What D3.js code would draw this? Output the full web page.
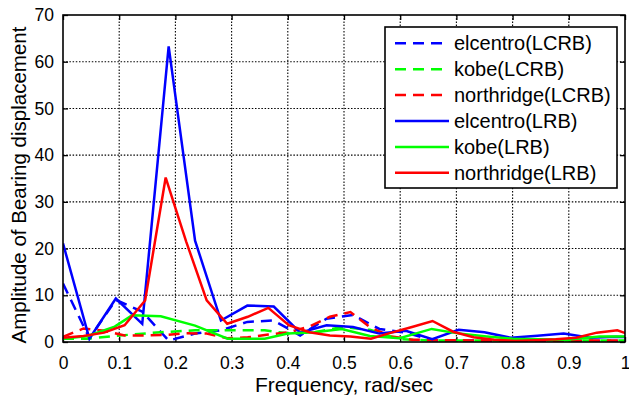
<!DOCTYPE html>
<meta charset="utf-8">
<script src="https://d3js.org/d3.v7.min.js"></script>
<style>
body { margin: 0; background: #fff; }
text { font-family: "Liberation Sans", Arial, sans-serif; fill: #000; }
</style>
<body>
<script>
// frequency grids (rad/sec), one per record
var elcentroFreq = [0, 0.047, 0.094, 0.141, 0.188, 0.235, 0.281, 0.328, 0.375, 0.422, 0.469, 0.516,
	0.563, 0.610, 0.657, 0.704, 0.750, 0.797, 0.844, 0.891, 0.938, 0.985, 1.032];
var kobeFreq = [0, 0.044, 0.092, 0.123, 0.174, 0.235, 0.293, 0.359, 0.400, 0.448, 0.496, 0.546,
	0.599, 0.656, 0.700, 0.754, 0.800, 0.896, 0.955, 1.0];
var northridgeFreq = [0, 0.0365, 0.0731, 0.1096, 0.1461, 0.1827, 0.2192, 0.2557, 0.2922, 0.3288,
	0.3653, 0.4018, 0.4384, 0.4749, 0.5114, 0.5480, 0.5845, 0.6210, 0.6575, 0.6941, 0.7306, 0.7671,
	0.8037, 0.8402, 0.8767, 0.9133, 0.9498, 0.9863, 1.0228];

// amplitudes
var elcentroLCRB = [12.5, 0.8, 9.0, 6.5, 0.3, 1.8, 2.5, 4.3, 4.6, 1.4, 5.0, 5.8, 2.8, 2.0, 0.4, 0.3,
	0.3, 0.2, 0.2, 0.2, 0.2, 0.2, 0.2];
var kobeLCRB = [0.7, 0.7, 1.3, 1.6, 2.1, 2.5, 2.5, 2.5, 1.8, 2.1, 3.2, 2.6, 0.6, 0.3, 0.3, 0.3, 0.3,
	0.3, 0.3, 0.3];
var northridgeLCRB = [1.1, 2.9, 2.4, 1.4, 1.4, 1.5, 1.9, 1.8, 0.8, 1.0, 1.6, 2.1, 3.3, 5.4, 6.4, 3.0,
	1.2, 0.5, 0.4, 0.4, 0.3, 0.3, 0.3, 0.3, 0.3, 0.3, 0.3, 0.3, 0.3];
var elcentroLRB = [21.1, 0.7, 9.3, 3.9, 63.3, 21.7, 4.6, 7.8, 7.6, 2.0, 3.6, 3.2, 1.8, 2.4, 0.6, 2.6,
	2.1, 0.9, 1.35, 1.8, 0.9, 1.1, 1.0];
var kobeLRB = [0.7, 1.3, 3.3, 5.7, 5.5, 3.5, 0.7, 0.7, 1.8, 2.1, 2.8, 1.3, 0.8, 2.8, 1.9, 1.2, 0.7,
	0.5, 1.2, 1.2];
var northridgeLRB = [0.9, 1.3, 2.0, 3.6, 8.9, 35.2, 21.5, 8.9, 3.9, 5.4, 7.3, 3.6, 2.1, 1.4, 1.2, 0.7,
	2.0, 3.2, 4.5, 2.2, 1.0, 0.5, 0.2, 0.4, 0.6, 0.9, 2.0, 2.5, 1.0];

var legendNames = ["elcentro(LCRB)", "kobe(LCRB)", "northridge(LCRB)",
	"elcentro(LRB)", "kobe(LRB)", "northridge(LRB)"];
var xTicks = [0, 0.1, 0.2, 0.3, 0.4, 0.5, 0.6, 0.7, 0.8, 0.9, 1];
var yTicks = [0, 10, 20, 30, 40, 50, 60, 70];

var dashed = "11,7";
var series = [
	{ name: legendNames[0], f: elcentroFreq, a: elcentroLCRB, color: "#0000ff", dash: dashed },
	{ name: legendNames[1], f: kobeFreq, a: kobeLCRB, color: "#00ff00", dash: dashed },
	{ name: legendNames[2], f: northridgeFreq, a: northridgeLCRB, color: "#ff0000", dash: dashed },
	{ name: legendNames[3], f: elcentroFreq, a: elcentroLRB, color: "#0000ff", dash: null },
	{ name: legendNames[4], f: kobeFreq, a: kobeLRB, color: "#00ff00", dash: null },
	{ name: legendNames[5], f: northridgeFreq, a: northridgeLRB, color: "#ff0000", dash: null }
];

var W = 629, H = 395,
	plotL = 63, plotR = 625, plotT = 15, plotB = 342;

var svg = d3.select("body").append("svg")
	.attr("width", W)
	.attr("height", H);

var x = d3.scaleLinear().domain([0, 1]).range([plotL, plotR]);
var y = d3.scaleLinear().domain([0, 70]).range([plotB, plotT]);

// dotted grid
svg.selectAll(".gx")
	.data(xTicks.slice(1, -1))
	.enter().append("line")
	.attr("x1", function(d) { return x(d); })
	.attr("x2", function(d) { return x(d); })
	.attr("y1", plotT).attr("y2", plotB)
	.style("stroke", "#000").style("stroke-width", 1.1)
	.style("stroke-dasharray", "1.5,1.7");

svg.selectAll(".gy")
	.data(yTicks.slice(1, -1))
	.enter().append("line")
	.attr("y1", function(d) { return y(d); })
	.attr("y2", function(d) { return y(d); })
	.attr("x1", plotL).attr("x2", plotR)
	.style("stroke", "#000").style("stroke-width", 1.1)
	.style("stroke-dasharray", "1.5,1.7");

// axes, ticks inward on all four sides
var tickLen = 5;
svg.append("g")
	.attr("transform", "translate(0," + plotB + ")")
	.call(d3.axisBottom(x).tickValues(xTicks).tickSizeInner(-tickLen).tickSizeOuter(0).tickPadding(10)
		.tickFormat(function(d) { return d3.format("~g")(d); }))
	.call(function(g) {
		g.select(".domain").remove();
		g.selectAll("text").attr("font-size", "17.5px").attr("dy", "0.95em");
	});
svg.append("g")
	.attr("transform", "translate(0," + plotT + ")")
	.call(d3.axisTop(x).tickValues(xTicks).tickSizeInner(-tickLen).tickSizeOuter(0).tickFormat(""))
	.call(function(g) { g.select(".domain").remove(); });
svg.append("g")
	.attr("transform", "translate(" + plotL + ",0)")
	.call(d3.axisLeft(y).tickValues(yTicks).tickSizeInner(-tickLen).tickSizeOuter(0).tickPadding(9))
	.call(function(g) {
		g.select(".domain").remove();
		g.selectAll("text").attr("font-size", "17.5px");
	});
svg.append("g")
	.attr("transform", "translate(" + plotR + ",0)")
	.call(d3.axisRight(y).tickValues(yTicks).tickSizeInner(-tickLen).tickSizeOuter(0).tickFormat(""))
	.call(function(g) { g.select(".domain").remove(); });
svg.selectAll(".tick line").style("stroke", "#000").style("stroke-width", 1.3);

// data lines
svg.append("clipPath").attr("id", "clip")
	.append("rect")
	.attr("x", plotL).attr("y", plotT)
	.attr("width", plotR - plotL).attr("height", plotB - plotT);

var line = d3.line()
	.x(function(d) { return x(d[0]); })
	.y(function(d) { return y(d[1]); });

svg.append("g").attr("clip-path", "url(#clip)")
	.selectAll("path")
	.data(series)
	.enter().append("path")
	.attr("d", function(s) { return line(d3.zip(s.f, s.a)); })
	.style("fill", "none")
	.style("stroke", function(s) { return s.color; })
	.style("stroke-width", 2.5)
	.style("stroke-dasharray", function(s) { return s.dash; });

// frame
svg.append("rect")
	.attr("x", plotL).attr("y", plotT)
	.attr("width", plotR - plotL).attr("height", plotB - plotT)
	.style("fill", "none").style("stroke", "#000").style("stroke-width", 1.6);

// labels
svg.append("text")
	.attr("x", (plotL + plotR) / 2).attr("y", 392)
	.style("text-anchor", "middle")
	.attr("font-size", "21px")
	.text("Frequency, rad/sec");

svg.append("text")
	.attr("transform", "translate(26,185) rotate(-90)")
	.style("text-anchor", "middle")
	.attr("font-size", "20.5px")
	.text("Amplitude of Bearing displacement");

// legend
var lg = svg.append("g");
lg.append("rect")
	.attr("x", 385).attr("y", 27)
	.attr("width", 232).attr("height", 161)
	.style("fill", "#fff").style("stroke", "#000").style("stroke-width", 1.6);

var rowH = 25.9;
var rows = lg.selectAll(".row")
	.data(series)
	.enter().append("g")
	.attr("transform", function(d, i) { return "translate(0," + (43.3 + i * rowH) + ")"; });
rows.append("line")
	.attr("x1", 395).attr("x2", 449)
	.style("stroke", function(s) { return s.color; })
	.style("stroke-width", 2.5)
	.style("stroke-dasharray", function(s) { return s.dash; });
rows.append("text")
	.attr("x", 454).attr("y", 7)
	.attr("font-size", "20px")
	.text(function(s) { return s.name; });
</script>
</body>
</html>
